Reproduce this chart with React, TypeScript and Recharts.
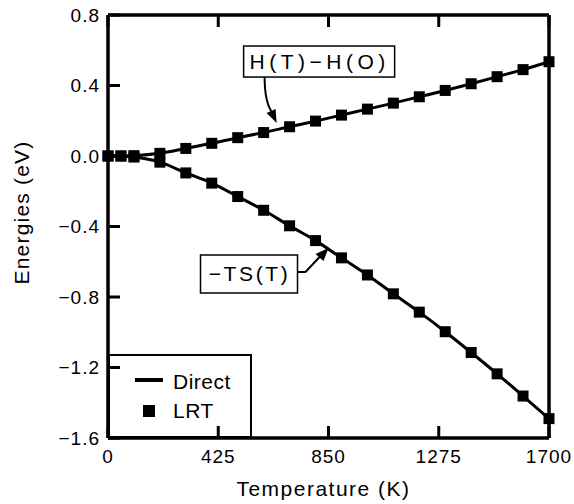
import React from 'react';
import {
  ComposedChart,
  Line,
  XAxis,
  YAxis,
  ReferenceLine,
  ReferenceDot,
  Legend
} from 'recharts';

// temperature grid (K) and the two energy terms (eV)
const TEMPS = [0, 50, 100, 200, 300, 400, 500, 600, 700, 800, 900, 1000, 1100, 1200, 1300, 1400, 1500, 1600, 1700];
const ENTHALPY = [0, 0, 0.002, 0.015, 0.043, 0.072, 0.104, 0.133, 0.166, 0.198, 0.232, 0.266, 0.3, 0.336, 0.372, 0.41, 0.45, 0.49, 0.535];
const ENTROPY_TERM = [0, 0, -0.006, -0.035, -0.096, -0.154, -0.23, -0.308, -0.396, -0.48, -0.578, -0.675, -0.782, -0.886, -0.997, -1.115, -1.236, -1.362, -1.49];

const X_TICKS = [0, 425, 850, 1275, 1700];
const Y_TICKS = [-1.6, -1.2, -0.8, -0.4, 0, 0.4, 0.8];
const X_DOMAIN: [number, number] = [0, 1700];
const Y_DOMAIN: [number, number] = [-1.6, 0.8];

// where the callout arrows point (data units)
const H_NOTE = { t: 650, e: 0.187 };
const TS_NOTE = { t: 850, e: -0.522 };

const FONT = '"Liberation Sans", Arial, Helvetica, sans-serif';
const TICK_LEN = 12;

const rows = TEMPS.map((t, i) => ({ t, h: ENTHALPY[i], ts: ENTROPY_TERM[i] }));

const fmtY = (v: number) => v.toFixed(1).replace('-', '\u2212');

// tick label plus an inward-pointing tick mark
const LeftTick = (props: any) => {
  const { x, y, payload, index } = props;
  return (
    <g key={index}>
      <line x1={x + 8} y1={y} x2={x + 8 + TICK_LEN} y2={y} stroke="#000" strokeWidth={3} />
      <text x={x} y={y} dy="0.355em" textAnchor="end" fontFamily={FONT} fontSize={19} letterSpacing={1} fill="#000">
        {fmtY(payload.value)}
      </text>
    </g>
  );
};

const BottomTick = (props: any) => {
  const { x, y, payload, index } = props;
  return (
    <g key={index}>
      <line x1={x} y1={y - 12} x2={x} y2={y - 12 - TICK_LEN} stroke="#000" strokeWidth={3} />
      <text x={x} y={y} dy="0.71em" textAnchor="middle" fontFamily={FONT} fontSize={19} letterSpacing={1} fill="#000">
        {payload.value}
      </text>
    </g>
  );
};

const TopTick = (props: any) => {
  const { x, y, index } = props;
  return <line key={index} x1={x} y1={y} x2={x} y2={y + TICK_LEN} stroke="#000" strokeWidth={3} />;
};

const RightTick = (props: any) => {
  const { x, y, index } = props;
  return <line key={index} x1={x} y1={y} x2={x - TICK_LEN} y2={y} stroke="#000" strokeWidth={3} />;
};

const SquareDot = (props: any) => {
  const { cx, cy, index } = props;
  if (cx == null || cy == null) return null;
  return <rect key={index} x={cx - 5.5} y={cy - 5.5} width={11} height={11} fill="#000" />;
};

const HCallout = (props: any) => {
  const { cx, cy } = props;
  return (
    <g>
      <rect x={cx - 33} y={cy - 77} width={151} height={31} fill="#fff" stroke="#000" strokeWidth={1.5} />
      <text x={cx + 43} y={cy - 54} textAnchor="middle" fontFamily={FONT} fontSize={21} letterSpacing={4.5} fill="#000">
        H(T)−H(O)
      </text>
      <path d={`M${cx - 12},${cy - 46} Q${cx - 12},${cy - 20} ${cx - 4},${cy - 10}`} fill="none" stroke="#000" strokeWidth={2} />
      <polygon points={`${cx},${cy} ${cx - 1},${cy - 14} ${cx - 10},${cy - 10}`} fill="#000" />
    </g>
  );
};

const TSCallout = (props: any) => {
  const { cx, cy } = props;
  return (
    <g>
      <rect x={cx - 128} y={cy + 7} width={97} height={38} fill="#fff" stroke="#000" strokeWidth={1.5} />
      <text x={cx - 79} y={cy + 33} textAnchor="middle" fontFamily={FONT} fontSize={21} letterSpacing={2.6} fill="#000">
        −TS(T)
      </text>
      <polyline points={`${cx - 31},${cy + 24} ${cx - 23},${cy + 24} ${cx - 8},${cy + 8}`} fill="none" stroke="#000" strokeWidth={2} />
      <polygon points={`${cx},${cy} ${cx - 5},${cy + 13} ${cx - 13},${cy + 6}`} fill="#000" />
    </g>
  );
};

const LegendBox = () => (
  <svg width={144} height={84} style={{ display: 'block' }}>
    <rect x={1} y={1} width={142} height={82} fill="none" stroke="#000" strokeWidth={2} />
    <line x1={27} y1={26} x2={55} y2={26} stroke="#000" strokeWidth={4} />
    <text x={65} y={35} fontFamily={FONT} fontSize={21} letterSpacing={0.5} fill="#000">Direct</text>
    <rect x={35} y={51} width={12} height={12} fill="#000" />
    <text x={65} y={64} fontFamily={FONT} fontSize={21} letterSpacing={0.5} fill="#000">LRT</text>
  </svg>
);

const XTitle = (props: any) => {
  const vb = props.viewBox || { x: 108, y: 438, width: 441, height: 66 };
  return (
    <text x={vb.x + vb.width / 2 - 5} y={vb.y + 58} textAnchor="middle" fontFamily={FONT} fontSize={21} letterSpacing={1.5} fill="#000">
      Temperature (K)
    </text>
  );
};

const YTitle = (props: any) => {
  const vb = props.viewBox || { x: 0, y: 15, width: 108, height: 423 };
  const x = 29;
  const y = vb.y + vb.height / 2 - 14;
  return (
    <text x={x} y={y} transform={`rotate(-90, ${x}, ${y})`} textAnchor="middle" fontFamily={FONT} fontSize={21} letterSpacing={1.2} fill="#000">
      Energies (eV)
    </text>
  );
};

export default function App() {
  return (
    <div style={{ position: 'absolute', left: 0, top: 0, background: '#fff' }}>
      <ComposedChart width={574} height={504} data={rows} margin={{ top: 14, right: 24, left: 0, bottom: 0 }}>
        <XAxis
          dataKey="t"
          type="number"
          domain={X_DOMAIN}
          ticks={X_TICKS}
          height={66}
          axisLine={false}
          tickLine={false}
          tickSize={0}
          tickMargin={12}
          tick={BottomTick}
          label={<XTitle />}
        />
        <XAxis
          xAxisId="top"
          orientation="top"
          dataKey="t"
          type="number"
          domain={X_DOMAIN}
          ticks={X_TICKS}
          height={1}
          axisLine={false}
          tickLine={false}
          tickSize={0}
          tickMargin={0}
          tick={TopTick}
        />
        <YAxis
          type="number"
          domain={Y_DOMAIN}
          ticks={Y_TICKS}
          width={108}
          axisLine={false}
          tickLine={false}
          tickSize={0}
          tickMargin={8}
          tick={LeftTick}
          label={<YTitle />}
        />
        <YAxis
          yAxisId="right"
          orientation="right"
          type="number"
          domain={Y_DOMAIN}
          ticks={Y_TICKS}
          width={1}
          axisLine={false}
          tickLine={false}
          tickSize={0}
          tickMargin={0}
          tick={RightTick}
        />

        {/* plot frame */}
        <ReferenceLine x={X_DOMAIN[0]} stroke="#000" strokeWidth={3.5} ifOverflow="visible" />
        <ReferenceLine x={X_DOMAIN[1]} stroke="#000" strokeWidth={3.5} ifOverflow="visible" />
        <ReferenceLine y={Y_DOMAIN[0]} stroke="#000" strokeWidth={3.5} ifOverflow="visible" />
        <ReferenceLine y={Y_DOMAIN[1]} stroke="#000" strokeWidth={3.5} ifOverflow="visible" />
        <ReferenceLine yAxisId="right" y={0} stroke="#000" strokeWidth={3} />

        <Line
          type="monotone"
          dataKey="h"
          stroke="#000"
          strokeWidth={3}
          dot={SquareDot}
          activeDot={false}
          isAnimationActive={false}
          name="Direct"
        />
        <Line
          type="monotone"
          dataKey="ts"
          stroke="#000"
          strokeWidth={3}
          dot={SquareDot}
          activeDot={false}
          isAnimationActive={false}
          name="LRT"
        />

        <ReferenceDot x={H_NOTE.t} y={H_NOTE.e} r={0} shape={HCallout} />
        <ReferenceDot x={TS_NOTE.t} y={TS_NOTE.e} r={0} shape={TSCallout} />

        <Legend
          layout="vertical"
          align="center"
          verticalAlign="middle"
          wrapperStyle={{ left: 108, top: 354, width: 144, height: 84 }}
          content={LegendBox}
        />
      </ComposedChart>
    </div>
  );
}
